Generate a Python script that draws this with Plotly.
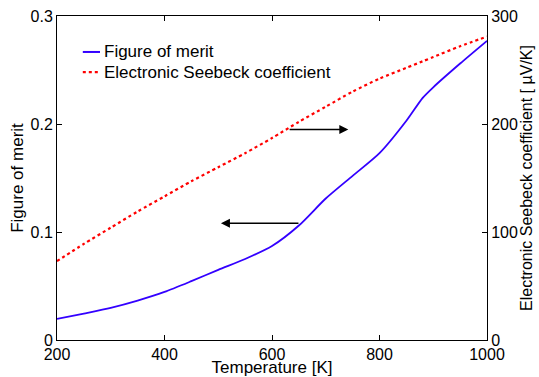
import plotly.graph_objects as go

temperature = [200, 250, 300, 350, 400, 450, 500, 550, 600, 650, 700, 750, 800, 850, 880, 900, 950, 1000]
figure_of_merit = [0.0195, 0.0245, 0.0298, 0.0365, 0.0445, 0.0545, 0.065, 0.075, 0.087, 0.106, 0.131, 0.152, 0.173, 0.203, 0.224, 0.234, 0.256, 0.277]
seebeck = [73, 89, 104, 119, 133, 147, 160, 173, 187, 202, 216, 230, 242, 252, 258, 262, 272, 281]

legend_names = ["Figure of merit", "Electronic Seebeck coefficient"]
x_ticks = [200, 400, 600, 800, 1000]
left_ticks = [0, 0.1, 0.2, 0.3]
left_tick_text = ["0", "0.1", "0.2", "0.3"]
right_ticks = [0, 100, 200, 300]

FONT = "Liberation Sans, Arial, sans-serif"
BLUE = "#3300ff"
RED = "#ff0000"

fig = go.Figure()
fig.add_trace(go.Scatter(x=temperature, y=figure_of_merit, mode="lines",
                         line=dict(color=BLUE, width=1.8, shape="spline", smoothing=0.7),
                         name=legend_names[0], yaxis="y", showlegend=False))
fig.add_trace(go.Scatter(x=temperature, y=seebeck, mode="lines",
                         line=dict(color=RED, width=2.2, dash="dot", shape="spline", smoothing=0.7),
                         name=legend_names[1], yaxis="y2", showlegend=False))

axis_common = dict(showline=True, linecolor="black", linewidth=1, ticks="inside",
                   ticklen=5, tickcolor="black", showgrid=False, zeroline=False,
                   automargin=False,
                   tickfont=dict(family=FONT, size=16, color="black"))

fig.update_layout(
    width=539, height=377,
    margin=dict(l=57, r=52, t=16, b=37),
    paper_bgcolor="white", plot_bgcolor="white",
    font=dict(family=FONT, color="black"),
    xaxis=dict(range=[200, 1000], tickvals=x_ticks, mirror="ticks",
               title=dict(text="Temperature [K]", font=dict(family=FONT, size=17), standoff=0),
               **axis_common),
    yaxis=dict(range=[0, 0.3], tickvals=left_ticks, ticktext=left_tick_text,
               title=dict(text="Figure of merit", font=dict(family=FONT, size=17), standoff=2),
               **axis_common),
    yaxis2=dict(range=[0, 300], tickvals=right_ticks, overlaying="y", side="right",
                title=dict(text="Electronic Seebeck coefficient [ \u00b5V/K]",
                           font=dict(family=FONT, size=16), standoff=2),
                **axis_common),
    showlegend=False,
)

# manual legend (short line samples like the original)
legend_rows = [(0.889, BLUE, "solid", 2), (0.827, RED, "dot", 2.2)]
for (yp, col, dash, w), name in zip(legend_rows, legend_names):
    fig.add_shape(type="line", xref="paper", yref="paper", x0=0.06, x1=0.1, y0=yp, y1=yp,
                  line=dict(color=col, dash=dash, width=w))
    fig.add_annotation(xref="paper", yref="paper", x=0.104, y=yp, text=name, showarrow=False,
                       xanchor="left", yanchor="middle",
                       font=dict(family=FONT, size=17, color="black"))

# arrows
fig.add_annotation(x=742, y=0.195, ax=630, ay=0.195, xref="x", yref="y", axref="x", ayref="y",
                   text="", showarrow=True, arrowhead=2, arrowsize=1.2, arrowwidth=1.5,
                   arrowcolor="black")
fig.add_annotation(x=505, y=0.108, ax=652, ay=0.108, xref="x", yref="y", axref="x", ayref="y",
                   text="", showarrow=True, arrowhead=2, arrowsize=1.2, arrowwidth=1.5,
                   arrowcolor="black")

fig.write_html("out.html")
